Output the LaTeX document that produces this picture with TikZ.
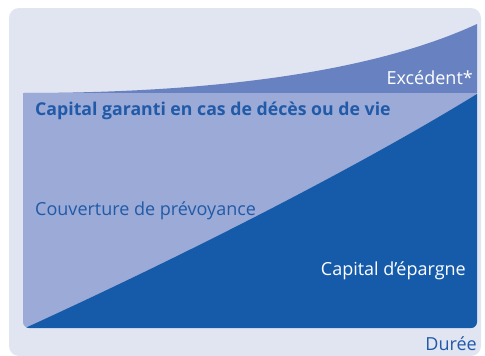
\documentclass[tikz,border=0pt]{standalone}
\usepackage{fontspec}
\setmainfont{Open Sans}
\usepackage{tikz}
\usetikzlibrary{positioning}
\definecolor{fond}{RGB}{225,229,242}
\definecolor{bandeau}{RGB}{104,130,193}
\definecolor{clair}{RGB}{155,170,214}
\definecolor{fonce}{RGB}{21,91,170}
\definecolor{texte}{RGB}{32,90,168}

\begin{document}
\begin{tikzpicture}[x=1pt, y=-1pt,
    etiquette/.style={inner sep=0pt, font=\fontsize{18}{21}\selectfont},
    titre/.style={etiquette, font=\fontsize{17.7}{21}\selectfont\bfseries}]
  \useasboundingbox (0,0) rectangle (485,356);
  \fill[fond, rounded corners=10pt] (9,8) rectangle (481,356);
  % zone du graphique
  \coordinate (HG) at (23,93);
  \coordinate (HD) at (477,93);
  \coordinate (BD) at (477,328);
  \coordinate (BG) at (23,328);
  \begin{scope}
    \clip[rounded corners=6pt] (23,0) rectangle (BD);
    \fill[bandeau] (HG) .. controls (280,93) and (410,55) .. (477,24) -- (HD) -- cycle;
    \fill[clair] (HG) rectangle (BD);
    \fill[fonce] (23,329) .. controls (170,262) and (350,172) .. (477,94) -- (477,332) -- cycle;
  \end{scope}
  % textes
  \node[etiquette, text=white, anchor=base east] (excedent) at (473,84.5) {Excédent*};
  \node[titre, text=texte, anchor=base west] (capital) at (35,115) {Capital garanti en cas de décès ou de vie};
  \node[etiquette, text=texte, anchor=base west] (couverture) at (35,215) {Couverture de prévoyance};
  \node[etiquette, text=white, anchor=base east] (epargne) at (466,275) {Capital d’épargne};
  \node[etiquette, text=texte, anchor=base east] (duree) at (477,350) {Durée};
\end{tikzpicture}
\end{document}
